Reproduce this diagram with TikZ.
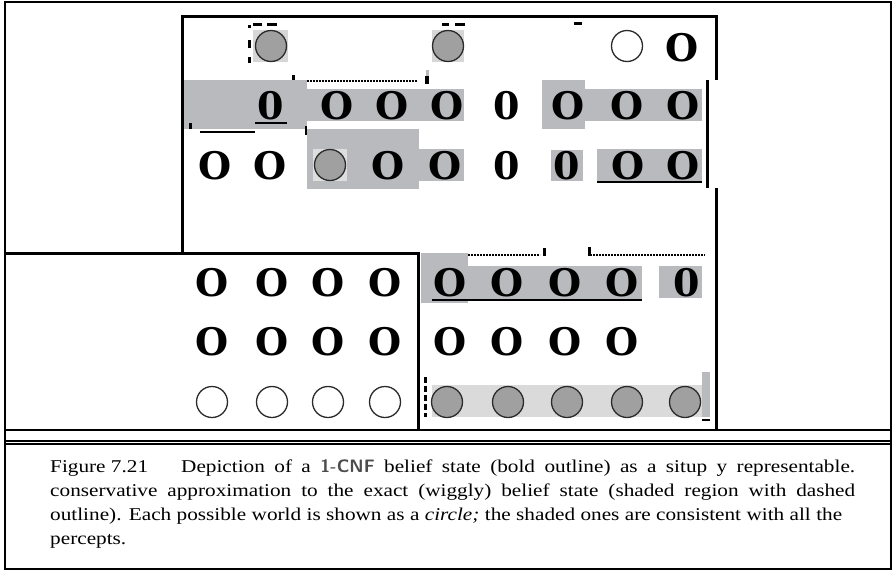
\documentclass[tikz,border=0pt]{standalone}
\usepackage{fontspec}
\usepackage{tikz}
\usetikzlibrary{positioning}
\newfontfamily\captionfont[FakeStretch=1.18]{Liberation Serif}
\newfontfamily\worldfont{DejaVu Serif}
\definecolor{shadegray}{HTML}{B9BABE}
\definecolor{worldgray}{HTML}{A0A0A0}
\definecolor{worldedge}{HTML}{2B2B2B}
\definecolor{tilegray}{HTML}{D6D6D6}

\begin{document}
\begin{tikzpicture}[x=1pt, y=-1pt, every node/.style={inner sep=0pt},
  bigO/.style={font=\worldfont\bfseries\fontsize{38}{38}\selectfont},
  world/.style={draw=worldedge, line width=1.3pt, circle, minimum size=31pt, fill=white},
  shadedworld/.style={world, fill=worldgray},
  boldline/.style={line width=3pt},
  frameline/.style={line width=1.2pt},
  wiggly/.style={line width=1.3pt, dash pattern=on 2pt off 1pt},
  wigglydash/.style={line width=3pt},
  shade/.style={fill=shadegray},
  capline/.style={anchor=base west, font=\captionfont\fontsize{18}{24}\selectfont}]
  \useasboundingbox (0,0) rectangle (895,571);
  \fill[white] (0,0) rectangle (895,571);
  % shaded region (exact belief state)
  \fill[shade] (184,80) rectangle (307,129);
  \fill[shade] (307,89) rectangle (464,121);
  \fill[shade] (542,80) rectangle (585,129);
  \fill[shade] (585,89) rectangle (702,121);
  \fill[shade] (307,129) rectangle (419,189);
  \fill[shade] (419,149) rectangle (464,181);
  \fill[shade] (551,150) rectangle (583,181);
  \fill[shade] (597,149) rectangle (702,182);
  \fill[shade] (421,253) rectangle (468,303);
  \fill[shade] (468,266) rectangle (642,300);
  \fill[shade] (659,266) rectangle (702,298);
  \fill[shade] (702,372) rectangle (710,417);
  % tiles behind the circles
  \fill[tilegray] (253,30) rectangle (288,62);
  \fill[tilegray] (432,30) rectangle (464,62);
  \fill[tilegray!80] (313,149) rectangle (347,181);
  \fill[tilegray!90] (432,385) rectangle (698,417);
  \fill[tilegray!90] (669,385) rectangle (702,417);
  % row 1
  \node[shadedworld] (r1c1) at (271,46) {};
  \node[shadedworld] (r1c2) at (448,46) {};
  \node[world] (r1c3) at (627,46) {};
  \node[bigO] (r1c4) at (682,48) {O};
  % row 2
  \node[bigO] (r2c1) at (271,106) {0};
  \foreach \x [count=\i] in {337,392,447} {
    \node[bigO] (r2o\i) at (\x,106) {O};
  }
  \node[bigO] (r2c5) at (507,106) {0};
  \foreach \x [count=\i] in {568,627,683} {
    \node[bigO] (r2p\i) at (\x,106) {O};
  }
  % row 3
  \node[bigO] (r3c1) at (215,166) {O};
  \node[bigO] (r3c2) at (270,166) {O};
  \node[shadedworld] (r3c3) at (330,165) {};
  \node[bigO] (r3c4) at (388,166) {O};
  \node[bigO] (r3c5) at (445,166) {O};
  \node[bigO] (r3c6) at (507,166) {0};
  \node[bigO] (r3c7) at (567,166) {0};
  \node[bigO] (r3c8) at (628,166) {O};
  \node[bigO] (r3c9) at (683,166) {O};
  % rows 4 and 5
  \foreach \x [count=\i] in {212,272,328,385,450,507,565,622} {
    \node[bigO] (r4c\i) at (\x,283) {O};
    \node[bigO] (r5c\i) at (\x,342) {O};
  }
  \node[bigO] (r4c9) at (687,283) {0};
  % row 6
  \foreach \x [count=\i] in {212,272,328,385} {
    \node[world] (r6c\i) at (\x,402) {};
  }
  \foreach \x [count=\i] in {447,508,567,627,685} {
    \node[shadedworld] (r6s\i) at (\x,402) {};
  }
  % bold outline (1-CNF belief state)
  \draw[boldline] (182,253) -- (182,16) -- (716,16) -- (716,80);
  \draw[boldline] (707,80) -- (707,188);
  \draw[boldline] (716,188) -- (716,430);
  \draw[boldline] (5,253) -- (418,253) -- (418,430);
  \draw[boldline, line width=2.5pt] (5,430) -- (891,430);
  % dashed outline (wiggly belief state)
  \draw[wigglydash] (253,24.5) -- (262,24.5) (267,24.5) -- (277,24.5);
  \draw[wigglydash] (249,25) -- (249,28) (249,40) -- (249,48) (249,57) -- (249,63);
  \draw[wigglydash] (442,24.5) -- (449,24.5) (455,24.5) -- (465,24.5);
  \draw[wigglydash] (574,23.5) -- (582,23.5);
  \draw[wiggly] (307,81) -- (417,81);
  \fill (292,75) rectangle (295,80);
  \fill[shadegray] (426,70) rectangle (429,76);
  \fill (425,76) rectangle (429,84);
  \fill (189,123) rectangle (192,129);
  \fill (305,126) rectangle (307,135);
  \draw[wiggly] (468,255) -- (540,255);
  \fill (543,248) rectangle (546,256);
  \fill (588,247) rectangle (591,256);
  \draw[wiggly] (590,255) -- (705,255);
  \draw[wigglydash, dash pattern=on 6pt off 3pt] (425,377) -- (425,417);
  \draw[line width=2pt] (702,420) -- (710,420);
  % underlines
  \draw[line width=2.5pt] (255,123) -- (287,123);
  \draw[line width=1.2pt] (200,132) -- (255,132);
  \draw[line width=2.5pt] (597,182) -- (702,182);
  \draw[line width=2.5pt] (432,300) -- (642,300);
  % frame and caption box
  \draw[frameline] (5,2) rectangle (891,569);
  \draw[frameline] (5,441) -- (891,441);
  \draw[frameline] (5,444) -- (891,444);
  \node[capline] (fignum) at (50,472) {Figure 7.21};
  \node[capline] (cap1) at (181,472) {\hbox to 674pt{Depiction of a {\sffamily\bfseries\color{black!70}1-CNF} belief state (bold outline) as a situp y representable.}};
  \node[capline] (cap2) at (50,496) {\hbox to 805pt{conservative approximation to the exact (wiggly) belief state (shaded region with dashed}};
  \node[capline] (cap3) at (50,520) {\hbox to 792pt{outline). Each possible world is shown as a \textit{circle;} the shaded ones are consistent with all the}};
  \node[capline] (cap4) at (50,544) {percepts.};
\end{tikzpicture}
\end{document}
